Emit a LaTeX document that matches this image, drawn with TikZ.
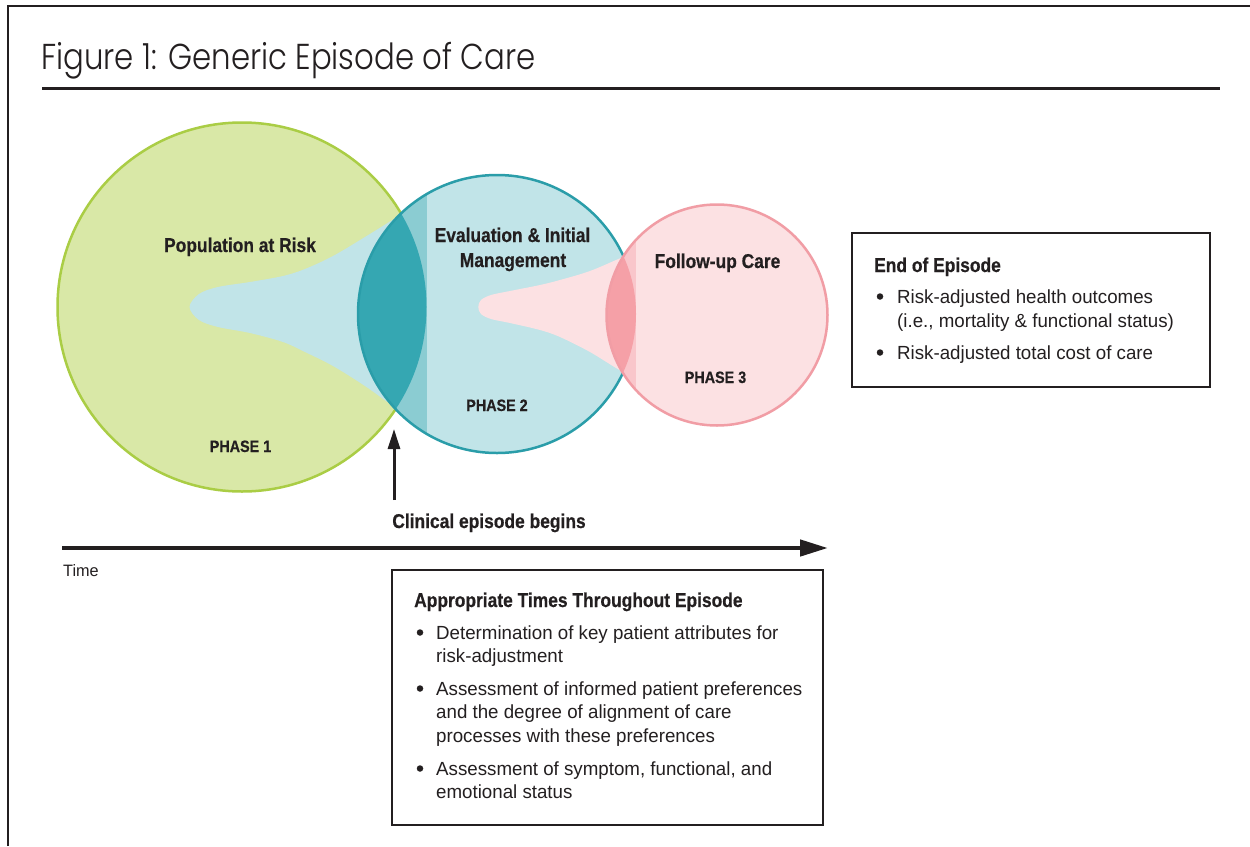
\documentclass[tikz,border=0pt]{standalone}
\usepackage{fontspec}
\setmainfont{Liberation Sans}
\newfontfamily\regfont{Liberation Sans}[FakeStretch=0.985]
\newfontfamily\boldfont{Liberation Sans Bold}[FakeStretch=0.87, FakeBold=0.5]
\newfontfamily\titlefont{Poppins Light}[FakeStretch=0.855]
\usetikzlibrary{arrows.meta}
\definecolor{ink}{HTML}{231F20}
\definecolor{greenfill}{HTML}{D9E8A7}
\definecolor{greenline}{HTML}{AACD45}
\definecolor{bluefill}{HTML}{C1E4E8}
\definecolor{blueline}{HTML}{2A9DA9}
\definecolor{bluemid}{HTML}{8BCCD2}
\definecolor{bluedark}{HTML}{35A7B2}
\definecolor{pinkfill}{HTML}{FCE1E3}
\definecolor{pinkline}{HTML}{F19DA5}
\definecolor{pinkmid}{HTML}{F9C6CB}
\definecolor{pinkdark}{HTML}{F5A0A7}
\begin{document}
\begin{tikzpicture}[x=1pt,y=-1pt,
  hdr/.style={font=\boldfont\fontsize{20}{24}\selectfont, text=ink, inner sep=0pt, anchor=base},
  hdrl/.style={hdr, anchor=base west},
  phaselbl/.style={font=\boldfont\fontsize{16.5}{20}\selectfont, text=ink, inner sep=0pt, anchor=base},
  body/.style={font=\regfont\fontsize{19}{23}\selectfont, text=ink, inner sep=0pt, anchor=base west},
  bul/.style={circle, fill=ink, inner sep=0pt, minimum size=6.5pt},
  infobox/.style={draw=ink, line width=2.5pt},
  frameline/.style={draw=ink, line width=2.5pt},
  ring/.style={line width=2.5pt}]
\useasboundingbox (0,0) rectangle (1250,846);
\fill[white] (0,0) rectangle (1250,846);
% frame and title
\draw[frameline] (8,846) -- (8,6) -- (1250,6);
\node[font=\titlefont\fontsize{36}{42}\selectfont, text=ink, inner sep=0pt, anchor=base west] (title) at (41,69) {Figure 1: Generic Episode of Care};
\draw[ink, line width=3pt] (42,88) -- (1220,88);
% circle centres
\coordinate (gc) at (242,307);
\coordinate (bc) at (497,314);
\coordinate (pc) at (717,315);
% green circle
\fill[greenfill] (gc) circle[radius=184.5pt];
\draw[greenline, ring] (gc) circle[radius=184.5pt];
\begin{scope}
  \clip (gc) circle[radius=184.5pt];
  \fill[bluefill] plot[smooth cycle, tension=0.55] coordinates {(432,195) (402,214) (365,237) (333,256) (305,269) (283,276) (250,282) (218,287) (199,294) (189.5,307) (199,320) (218,327) (250,333) (283,342) (305,352) (333,366) (365,386) (396,408) (425,426) (460,320)};
\end{scope}
% blue circle
\fill[bluefill] (bc) circle[radius=139pt];
\begin{scope}
  \clip (bc) circle[radius=139pt];
  \fill[bluemid] (340,150) rectangle (426.5,480);
  \fill[bluedark] (gc) circle[radius=184.5pt];
\end{scope}
\draw[blueline, ring] (bc) circle[radius=139pt];
\begin{scope}
  \clip (bc) circle[radius=139pt];
  \fill[pinkfill] plot[smooth cycle, tension=0.55] coordinates {(652,245) (623,257) (590,271) (560,280) (540,285) (510,291) (491,295) (481,300) (478.3,307) (481,314) (491,319) (510,323) (540,330) (560,337) (590,352) (623,372) (652,385) (670,315)};
\end{scope}
% pink circle
\fill[pinkfill] (pc) circle[radius=110.5pt];
\begin{scope}
  \clip (pc) circle[radius=110.5pt];
  \fill[pinkmid] (590,190) rectangle (636,440);
  \fill[pinkdark] (bc) circle[radius=139pt];
\end{scope}
\draw[pinkline, ring] (pc) circle[radius=110.5pt];
% circle labels
\node[hdr] (pop) at (240,252) {Population at Risk};
\node[phaselbl] (ph1) at (240.5,452) {PHASE 1};
\node[hdr] (eval1) at (512.5,242) {Evaluation \& Initial};
\node[hdr] (eval2) at (513,267) {Management};
\node[phaselbl] (ph2) at (497,411) {PHASE 2};
\node[hdr] (follow) at (717.5,268) {Follow-up Care};
\node[phaselbl] (ph3) at (715.5,383) {PHASE 3};
% clinical episode arrow
\coordinate (cstart) at (394,500);
\coordinate (ctip) at (394,429);
\draw[ink, line width=3pt, -{Triangle[length=20pt,width=12pt]}] (cstart) -- (ctip);
\node[hdr] (clin) at (489,528) {Clinical episode begins};
% time arrow
\coordinate (tstart) at (62,548);
\coordinate (tend) at (828,548);
\draw[ink, line width=4.5pt, -{Triangle[length=28pt,width=16pt]}] (tstart) -- (tend);
\node[font=\regfont\fontsize{16.5}{20}\selectfont, text=ink, inner sep=0pt, anchor=base west] (time) at (63,576) {Time};
% end of episode box
\draw[infobox] (852,233) rectangle (1210,387);
\node[hdrl] (endh) at (874,272) {End of Episode};
\node[bul] (eb1) at (880,296.5) {};
\node[body] (e1a) at (897,303) {Risk-adjusted health outcomes};
\node[body] (e1b) at (897,327) {(i.e., mortality \& functional status)};
\node[bul] (eb2) at (880,352.5) {};
\node[body] (e2a) at (897,359) {Risk-adjusted total cost of care};
% appropriate times box
\draw[infobox] (392,570) rectangle (823,825);
\node[hdrl] (apph) at (414,607) {Appropriate Times Throughout Episode};
\node[bul] (ab1) at (420,632.5) {};
\node[body] (a1a) at (436,639) {Determination of key patient attributes for};
\node[body] (a1b) at (436,662) {risk-adjustment};
\node[bul] (ab2) at (420,688.5) {};
\node[body] (a2a) at (436,695) {Assessment of informed patient preferences};
\node[body] (a2b) at (436,718.5) {and the degree of alignment of care};
\node[body] (a2c) at (436,742) {processes with these preferences};
\node[bul] (ab3) at (420,768.5) {};
\node[body] (a3a) at (436,775) {Assessment of symptom, functional, and};
\node[body] (a3b) at (436,798) {emotional status};
\end{tikzpicture}
\end{document}
